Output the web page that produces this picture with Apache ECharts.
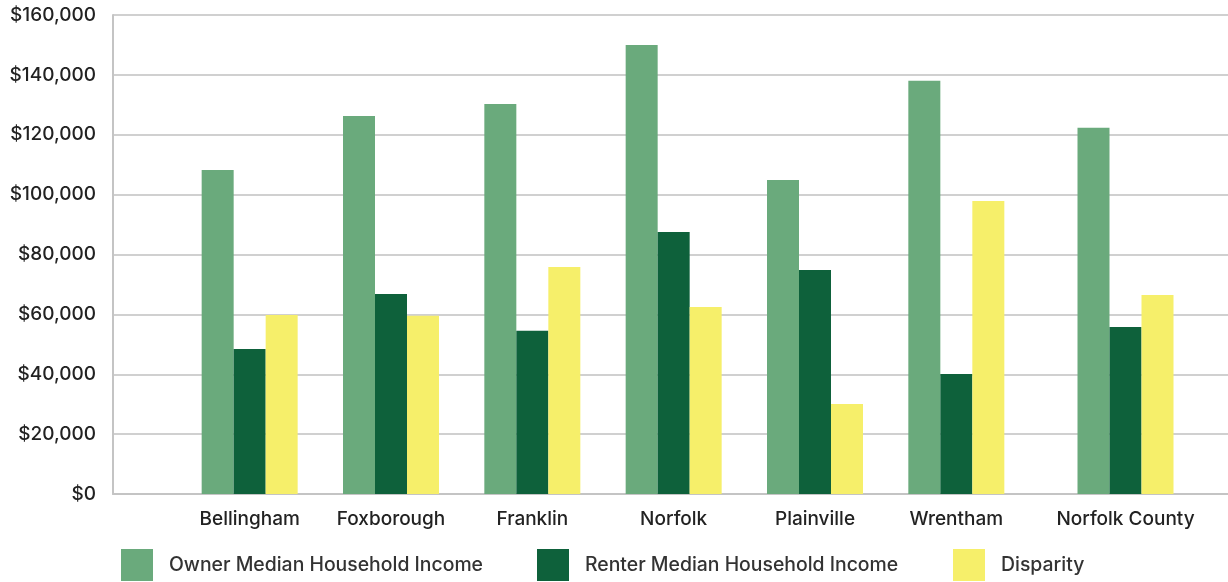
<!DOCTYPE html>
<html>
<head>
<meta charset="utf-8">
<title>Owner vs Renter Median Household Income</title>
<script src="https://cdn.jsdelivr.net/npm/echarts@6/dist/echarts.min.js"></script>
<style>
  html, body { margin: 0; padding: 0; background: #fff; }
  #chart { width: 1228px; height: 582px; }
</style>
</head>
<body>
<div id="chart"></div>
<script>
// towns first, county total last (drawn in its own slot, a bit further right)
const towns = ['Bellingham', 'Foxborough', 'Franklin', 'Norfolk', 'Plainville', 'Wrentham']
const county = ['Norfolk County']
const seriesNames = ['Owner Median Household Income', 'Renter Median Household Income', 'Disparity']

const ownerIncome  = [108200, 126300, 130300, 150000, 104900, 138000, 122300]
const renterIncome = [48400, 66800, 54500, 87500, 74800, 40100, 55800]
const disparity    = [59800, 59500, 75800, 62500, 30100, 97900, 66500]

const colors = ['#6aaa7c', '#0e613b', '#f6ef6a']
const font = 'Inter, "Noto Sans", sans-serif'

const chart = echarts.init(document.getElementById('chart'))

const valueData = [ownerIncome, renterIncome, disparity]

function hiddenY(gridIndex){
    return {
        type: 'value', gridIndex: gridIndex, min: 0, max: 160000,
        show: false, splitLine: { show: false }
    }
}
function barX(gridIndex, cats){
    return {
        type: 'category', gridIndex: gridIndex, data: cats,
        axisLine: { show: false }, axisTick: { show: false },
        axisLabel: { margin: 16, fontSize: 19, fontWeight: 500, color: '#222', fontFamily: font }
    }
}

const series = []
valueData.forEach((arr, i) => {
    series.push({
        name: seriesNames[i], type: 'bar', xAxisIndex: 1, yAxisIndex: 1,
        barWidth: 32, barGap: '0%', itemStyle: { color: colors[i] },
        data: arr.slice(0, towns.length)
    })
    series.push({
        name: seriesNames[i], type: 'bar', xAxisIndex: 2, yAxisIndex: 2,
        barWidth: 32, barGap: '0%', itemStyle: { color: colors[i] },
        data: arr.slice(towns.length)
    })
})

const legendLefts = [116, 532, 948]
const legends = seriesNames.map((n, i) => ({
    data: [n], left: legendLefts[i], top: 544,
    icon: 'rect', itemWidth: 32, itemHeight: 32,
    textStyle: { fontSize: 19.4, fontWeight: 500, color: '#333', fontFamily: font, padding: [4, 0, 0, 11] }
}))

const option = {
    animation: false,
    backgroundColor: '#fff',
    grid: [
        { left: 113, right: 0, top: 15, bottom: 88 },      // frame: y labels + gridlines
        { left: 179, right: 201, top: 15, bottom: 88 },    // towns
        { left: 1055, right: 32, top: 15, bottom: 88 }     // county
    ],
    xAxis: [
        {
            type: 'category', gridIndex: 0, data: [''],
            axisLine: { show: true, lineStyle: { color: '#c4c4c4', width: 2 } },
            axisTick: { show: false }, axisLabel: { show: false }
        },
        barX(1, towns),
        barX(2, county)
    ],
    yAxis: [
        {
            type: 'value', gridIndex: 0, min: 0, max: 160000, interval: 20000,
            axisLine: { show: true, lineStyle: { color: '#c4c4c4', width: 2 } },
            axisTick: { show: false },
            splitLine: { lineStyle: { color: '#d0d0d0', width: 2 } },
            axisLabel: {
                margin: 17, fontSize: 19, fontWeight: 500, color: '#222', fontFamily: font,
                formatter: v => '$' + v.toLocaleString('en-US')
            }
        },
        hiddenY(1),
        hiddenY(2)
    ],
    legend: legends,
    series: series
}

chart.setOption(option)
</script>
</body>
</html>
